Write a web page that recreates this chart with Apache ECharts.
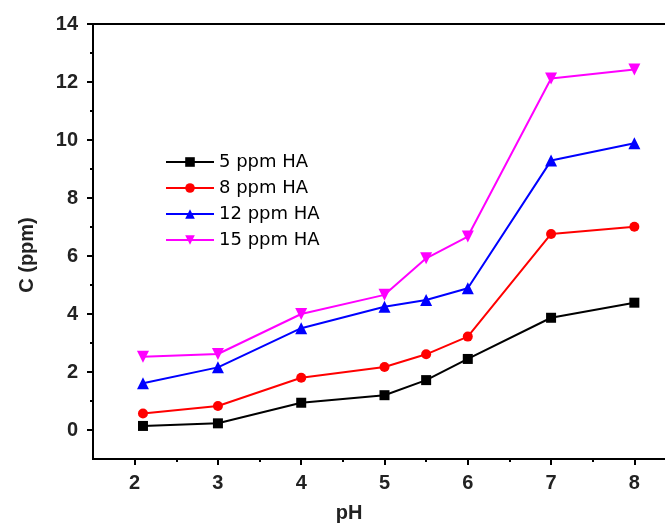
<!DOCTYPE html>
<html lang="en">
<head>
    <meta charset="UTF-8">
    <title>C vs pH</title>
    <script src="https://cdn.jsdelivr.net/npm/echarts@6/dist/echarts.min.js"></script>
    <style>
        html, body { margin: 0; padding: 0; background: #fff; overflow: hidden; }
    </style>
</head>
<body>
<!-- the chart is wider than the window: the right frame is cut off like in the original -->
<div id="main" style="width: 700px;height:528px;"></div>

<script type="text/javascript">
    // pH values (x)
    var phValues = [2.1, 3, 4, 5, 5.5, 6, 7, 8];
    // concentrations
    var ha5 = [0.14, 0.23, 0.94, 1.2, 1.72, 2.45, 3.87, 4.39];
    var ha8 = [0.57, 0.83, 1.80, 2.17, 2.61, 3.22, 6.76, 7.01];
    var ha12 = [1.61, 2.16, 3.51, 4.25, 4.48, 4.89, 9.29, 9.89];
    var ha15 = [2.53, 2.62, 4.0, 4.66, 5.92, 6.67, 12.12, 12.43];
    var seriesNames = ['5 ppm HA', '8 ppm HA', '12 ppm HA', '15 ppm HA'];

    var xMajor = [2, 3, 4, 5, 6, 7, 8];
    var xMinor = [2.5, 3.5, 4.5, 5.5, 6.5, 7.5];
    var yMajor = [0, 2, 4, 6, 8, 10, 12, 14];
    var yMinor = [1, 3, 5, 7, 9, 11, 13];

    function pairs(ys) {
        return phValues.map(function (x, i) { return [x, ys[i]]; });
    }

    var myChart = echarts.init(document.getElementById('main'));
    var font = 'Liberation Sans, Arial, sans-serif';

    myChart.setOption({
        animation: false,
        grid: {
            left: 93, top: 24, right: 24, bottom: 69,
            show: true, borderColor: '#000', borderWidth: 2, backgroundColor: 'transparent'
        },
        legend: {
            orient: 'vertical',
            left: 160, top: 148,
            itemWidth: 48, itemHeight: 12, itemGap: 8,
            textStyle: { fontFamily: 'DejaVu Sans, sans-serif', fontSize: 18, color: '#000' },
            data: seriesNames
        },
        xAxis: [{
            type: 'value', min: 1.5, max: 8.5,
            name: 'pH', nameLocation: 'middle', nameGap: 44,
            nameTextStyle: { fontFamily: font, fontSize: 20, fontWeight: 'bold', color: '#222', padding: [0, 71, 0, 0] },
            axisLine: { show: true, onZero: false, lineStyle: { color: '#000', width: 2 } },
            axisTick: { show: true, length: 6, lineStyle: { color: '#000', width: 2 }, customValues: xMajor },
            axisLabel: { customValues: xMajor, margin: 14, fontFamily: font, fontSize: 20, fontWeight: 'bold', color: '#222' },
            splitLine: { show: false }
        }, {
            // minor ticks
            type: 'value', min: 1.5, max: 8.5, position: 'bottom',
            axisLine: { show: false, onZero: false },
            axisTick: { show: true, length: 3, lineStyle: { color: '#000', width: 2 }, customValues: xMinor },
            axisLabel: { show: false },
            splitLine: { show: false }
        }],
        yAxis: [{
            type: 'value', min: -1, max: 14,
            name: 'C (ppm)', nameLocation: 'middle', nameGap: 56,
            nameTextStyle: { fontFamily: font, fontSize: 20, fontWeight: 'bold', color: '#222', padding: [0, 27, 0, 0] },
            axisLine: { show: true, onZero: false, lineStyle: { color: '#000', width: 2 } },
            axisTick: { show: true, length: 6, lineStyle: { color: '#000', width: 2 }, customValues: yMajor },
            axisLabel: { customValues: yMajor, margin: 15, fontFamily: font, fontSize: 20, fontWeight: 'bold', color: '#222' },
            splitLine: { show: false }
        }, {
            // minor ticks
            type: 'value', min: -1, max: 14, position: 'left',
            axisLine: { show: false, onZero: false },
            axisTick: { show: true, length: 3, lineStyle: { color: '#000', width: 2 }, customValues: yMinor },
            axisLabel: { show: false },
            splitLine: { show: false }
        }],
        series: [{
            name: seriesNames[0], type: 'line', data: pairs(ha5),
            symbol: 'rect', symbolSize: 10,
            itemStyle: { color: '#000' }, lineStyle: { color: '#000', width: 2 }
        }, {
            name: seriesNames[1], type: 'line', data: pairs(ha8),
            symbol: 'circle', symbolSize: 10,
            itemStyle: { color: '#ff0000' }, lineStyle: { color: '#ff0000', width: 2 }
        }, {
            name: seriesNames[2], type: 'line', data: pairs(ha12),
            symbol: 'triangle', symbolSize: 12,
            itemStyle: { color: '#0000ff' }, lineStyle: { color: '#0000ff', width: 2 }
        }, {
            name: seriesNames[3], type: 'line', data: pairs(ha15),
            symbol: 'triangle', symbolRotate: 180, symbolSize: 12,
            itemStyle: { color: '#ff00ff' }, lineStyle: { color: '#ff00ff', width: 2 }
        }]
    });
</script>
</body>
</html>
